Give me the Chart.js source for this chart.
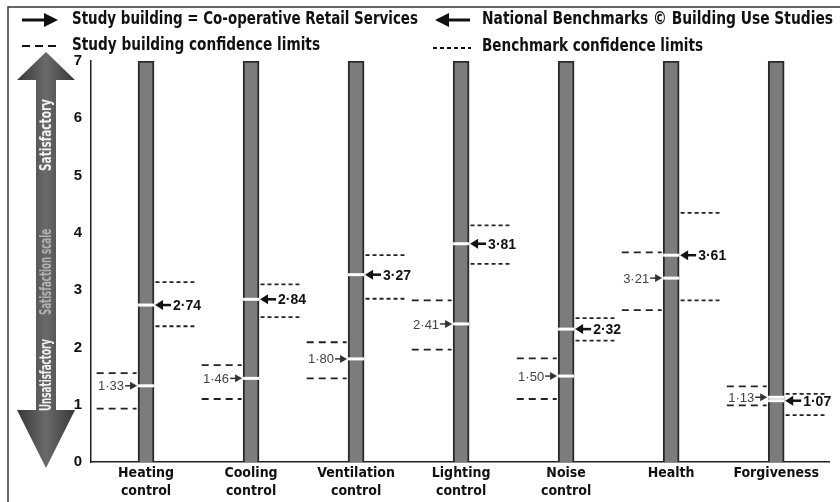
<!DOCTYPE html>
<html>
<head>
<meta charset="utf-8">
<script src="https://cdn.jsdelivr.net/npm/chart.js@4.4.1/dist/chart.umd.min.js"></script>
<style>
  html, body { margin: 0; padding: 0; background: #fff; }
  #wrap { position: relative; width: 840px; height: 502px; }
</style>
</head>
<body>
<div id="wrap"><canvas id="chart" width="840" height="502"></canvas></div>
<script>
var categories = [['Heating', 'control'], ['Cooling', 'control'], ['Ventilation', 'control'],
  ['Lighting', 'control'], ['Noise', 'control'], ['Health'], ['Forgiveness']];

// study building = Co-operative Retail Services
var studyValues = [1.33, 1.46, 1.80, 2.41, 1.50, 3.21, 1.13];
var studyUpper = [1.55, 1.69, 2.09, 2.82, 1.81, 3.66, 1.32];
var studyLower = [0.93, 1.10, 1.46, 1.96, 1.10, 2.65, 0.99];

// national benchmarks
var benchValues = [2.74, 2.84, 3.27, 3.81, 2.32, 3.61, 1.07];
var benchUpper = [3.14, 3.10, 3.61, 4.13, 2.51, 4.35, 1.19];
var benchLower = [2.37, 2.53, 2.85, 3.46, 2.12, 2.82, 0.82];

var yTicks = [0, 1, 2, 3, 4, 5, 6, 7];
var scaleMax = 7;

var NARROW = '"DejaVu Sans Condensed", "Liberation Sans Narrow", "Roboto Condensed", "Liberation Sans", sans-serif';
var PLAIN = '"Liberation Sans", Arial, sans-serif';

function fmt(v) {
  return v.toFixed(2).replace('.', '\u00b7');
}

function limitLines(upper, lower, from, to) {
  var pts = [];
  categories.forEach(function (c, i) {
    pts.push({ x: i + from, y: upper[i] }, { x: i + to, y: upper[i] }, { x: i, y: null });
    pts.push({ x: i + from, y: lower[i] }, { x: i + to, y: lower[i] }, { x: i, y: null });
  });
  return pts;
}

function markers() {
  var pts = [];
  categories.forEach(function (c, i) {
    pts.push({ x: i, y: studyValues[i] }, { x: i, y: benchValues[i] });
  });
  return pts;
}

function arrowHead(ctx, tipX, y, dir, len, half) {
  ctx.beginPath();
  ctx.moveTo(tipX, y);
  ctx.lineTo(tipX - dir * len, y - half);
  ctx.lineTo(tipX - dir * len, y + half);
  ctx.closePath();
  ctx.fill();
}

function drawScaleArrow(ctx) {
  var cx = 46;
  var g = ctx.createLinearGradient(17, 0, 75, 0);
  g.addColorStop(0, '#383838');
  g.addColorStop(0.5, '#6a6a6a');
  g.addColorStop(1, '#383838');
  ctx.fillStyle = g;
  ctx.beginPath();
  ctx.moveTo(cx, 52);
  ctx.lineTo(75, 80);
  ctx.lineTo(56, 80);
  ctx.lineTo(56, 410);
  ctx.lineTo(75, 410);
  ctx.lineTo(cx, 468);
  ctx.lineTo(17, 410);
  ctx.lineTo(36, 410);
  ctx.lineTo(36, 80);
  ctx.lineTo(17, 80);
  ctx.closePath();
  ctx.fill();

  ctx.save();
  ctx.translate(cx + 1, 0);
  ctx.rotate(-Math.PI / 2);
  ctx.textAlign = 'center';
  ctx.textBaseline = 'middle';
  ctx.font = 'bold 15px ' + NARROW;
  ctx.fillStyle = '#f2f2f2';
  ctx.fillText('Satisfactory', -135, 0, 72);
  ctx.fillText('Unsatisfactory', -375, 0, 72);
  ctx.fillStyle = '#b0b0b0';
  ctx.fillText('Satisfaction scale', -272, 0, 86);
  ctx.restore();
}

function drawLegend(ctx) {
  ctx.save();
  ctx.fillStyle = '#111';
  ctx.strokeStyle = '#111';
  ctx.font = 'bold 17px ' + NARROW;
  ctx.textBaseline = 'middle';
  ctx.textAlign = 'left';

  // study arrow
  ctx.lineWidth = 3;
  ctx.beginPath();
  ctx.moveTo(22, 20);
  ctx.lineTo(46, 20);
  ctx.stroke();
  arrowHead(ctx, 58, 20, 1, 14, 7);
  ctx.fillText('Study building = Co-operative Retail Services', 72, 20, 346);

  // benchmark arrow
  ctx.beginPath();
  ctx.moveTo(447, 20);
  ctx.lineTo(470, 20);
  ctx.stroke();
  arrowHead(ctx, 435, 20, -1, 14, 7);
  ctx.fillText('National Benchmarks \u00a9 Building Use Studies', 482, 20, 351);

  // confidence limits
  ctx.lineWidth = 2;
  ctx.setLineDash([8, 5]);
  ctx.beginPath();
  ctx.moveTo(22, 46);
  ctx.lineTo(60, 46);
  ctx.stroke();
  ctx.setLineDash([4, 3]);
  ctx.beginPath();
  ctx.moveTo(433, 48);
  ctx.lineTo(471, 48);
  ctx.stroke();
  ctx.setLineDash([]);
  ctx.fillText('Study building confidence limits', 72, 46, 248);
  ctx.fillText('Benchmark confidence limits', 482, 47, 221);
  ctx.restore();
}

var decor = {
  id: 'decor',
  beforeDraw: function (c) {
    var ctx = c.ctx;
    ctx.save();
    ctx.fillStyle = '#fff';
    ctx.fillRect(0, 0, c.width, c.height);
    ctx.strokeStyle = '#333';
    ctx.lineWidth = 1.5;
    ctx.beginPath();
    ctx.moveTo(8, 503);
    ctx.lineTo(8, 7);
    ctx.lineTo(840, 7);
    ctx.stroke();
    ctx.restore();
    drawLegend(ctx);
    drawScaleArrow(ctx);
  },
  afterDatasetsDraw: function (c) {
    var ctx = c.ctx;
    var xs = c.scales.x;
    var ys = c.scales.y;
    ctx.save();
    ctx.textBaseline = 'middle';
    categories.forEach(function (cat, i) {
      var x = xs.getPixelForValue(i);

      // study building arrow, pointing right at the bar
      var y = ys.getPixelForValue(studyValues[i]);
      var tip = x - 9;
      ctx.fillStyle = '#333';
      ctx.strokeStyle = '#333';
      ctx.lineWidth = 1.5;
      ctx.beginPath();
      ctx.moveTo(tip - 12, y);
      ctx.lineTo(tip - 5, y);
      ctx.stroke();
      arrowHead(ctx, tip, y, 1, 7, 4);
      ctx.font = '13px ' + PLAIN;
      ctx.textAlign = 'right';
      ctx.fillStyle = '#444';
      ctx.fillText(fmt(studyValues[i]), tip - 13, y + 1);

      // benchmark arrow, pointing left at the bar
      y = ys.getPixelForValue(benchValues[i]);
      tip = x + 9;
      ctx.fillStyle = '#111';
      ctx.strokeStyle = '#111';
      ctx.lineWidth = 2.5;
      ctx.beginPath();
      ctx.moveTo(tip + 6, y);
      ctx.lineTo(tip + 16, y);
      ctx.stroke();
      arrowHead(ctx, tip, y, -1, 8, 5);
      ctx.font = 'bold 14px ' + PLAIN;
      ctx.textAlign = 'left';
      ctx.fillText(fmt(benchValues[i]), tip + 18, y + 1);
    });
    ctx.restore();
  }
};

var chart = new Chart(document.getElementById('chart').getContext('2d'), {
  type: 'bar',
  data: {
    datasets: [{
      type: 'bar',
      label: 'Scale',
      order: 3,
      data: categories.map(function (c, i) { return { x: i, y: scaleMax }; }),
      barThickness: 16,
      backgroundColor: '#7c7c7c',
      borderColor: '#2a2a2a',
      borderWidth: { left: 2, right: 2, top: 2, bottom: 0 },
      borderSkipped: 'bottom'
    }, {
      type: 'line',
      label: 'Study building confidence limits',
      order: 2,
      data: limitLines(studyUpper, studyLower, -0.47, -0.09),
      borderColor: '#222',
      borderWidth: 1.8,
      borderDash: [7, 5],
      pointRadius: 0,
      spanGaps: false
    }, {
      type: 'line',
      label: 'Benchmark confidence limits',
      order: 2,
      data: limitLines(benchUpper, benchLower, 0.09, 0.46),
      borderColor: '#222',
      borderWidth: 1.8,
      borderDash: [4, 3],
      pointRadius: 0,
      spanGaps: false
    }, {
      type: 'scatter',
      label: 'Scores',
      order: 1,
      data: markers(),
      pointStyle: 'line',
      pointRadius: 8,
      borderColor: '#ffffff',
      borderWidth: 3
    }]
  },
  options: {
    responsive: false,
    animation: false,
    events: [],
    layout: {
      padding: { top: 61, right: 2, left: 0, bottom: 0 }
    },
    plugins: {
      legend: { display: false },
      tooltip: { enabled: false }
    },
    scales: {
      x: {
        type: 'linear',
        min: -0.524,
        max: 6.503,
        offset: false,
        grid: { display: false, drawTicks: false },
        border: { display: true, color: '#222', width: 1.5 },
        afterBuildTicks: function (s) {
          s.ticks = categories.map(function (c, i) { return { value: i }; });
        },
        afterFit: function (s) { s.height = 40; },
        ticks: {
          padding: 2,
          maxRotation: 0,
          autoSkip: false,
          color: '#111',
          font: { family: NARROW, size: 14, weight: 'bold', lineHeight: 1.3 },
          callback: function (v) { return categories[v]; }
        }
      },
      y: {
        min: 0,
        max: scaleMax,
        grid: { display: false, drawTicks: false },
        border: { display: true, color: '#222', width: 1.5 },
        afterBuildTicks: function (s) {
          s.ticks = yTicks.map(function (v) { return { value: v }; });
        },
        afterFit: function (s) { s.width = 91; },
        ticks: {
          padding: 9,
          color: '#111',
          font: { family: PLAIN, size: 15, weight: 'bold' }
        }
      }
    }
  },
  plugins: [decor]
});
</script>
</body>
</html>
